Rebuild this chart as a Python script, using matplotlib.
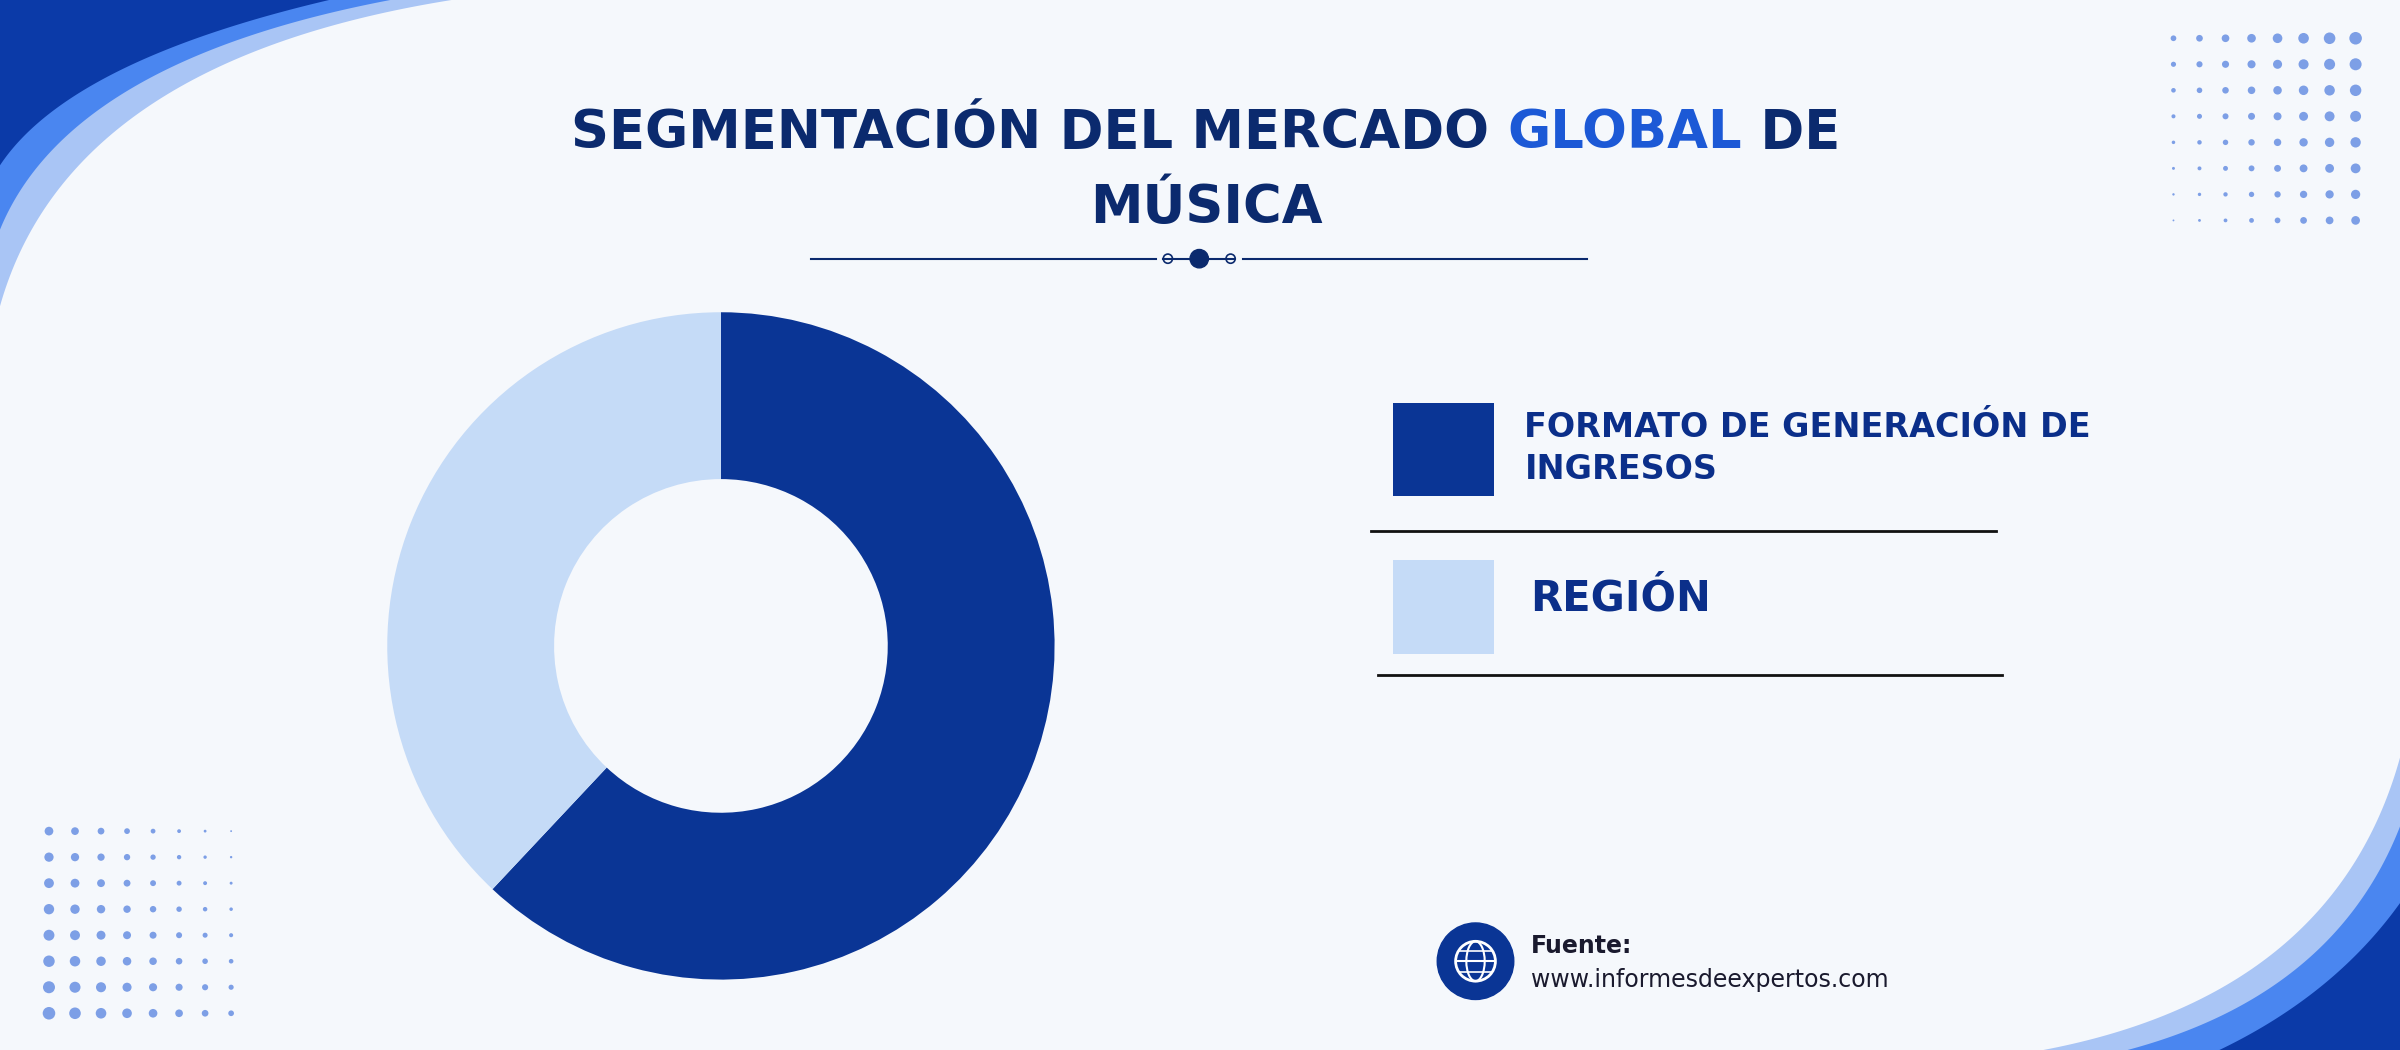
import numpy as np
import matplotlib
matplotlib.use("Agg")
import matplotlib.pyplot as plt
from matplotlib.patches import Polygon, Circle, Rectangle, Ellipse

# datos
segments = ["FORMATO DE GENERACIÓN DE\nINGRESOS", "REGIÓN"]
shares = [62, 38]
colors = ["#0a3595", "#c5dbf7"]
title_parts = [("SEGMENTACIÓN DEL MERCADO ", "#0b2a6e"), ("GLOBAL", "#1c59d6"), (" DE", "#0b2a6e")]
title_line2 = "MÚSICA"
source_label = "Fuente:"
source_url = "www.informesdeexpertos.com"

W, H = 1568, 686
BG = "#f5f8fc"
fig = plt.figure(figsize=(24, 10.5), dpi=100, facecolor=BG)
bg = fig.add_axes([0, 0, 1, 1])
bg.set_xlim(0, W)
bg.set_ylim(H, 0)
bg.axis("off")
bg.set_facecolor(BG)

def bez(p0, c, p1, n=80):
    t = np.linspace(0, 1, n)[:, None]
    return (1 - t) ** 2 * np.array(p0) + 2 * (1 - t) * t * np.array(c) + t ** 2 * np.array(p1)

# esquinas decorativas
for y0, x1, col in [(200, 295, "#a9c5f5"), (150, 255, "#4a86f0"), (108, 215, "#0b3aa8")]:
    pts = bez((0, y0), (45, 40), (x1, 0))
    bg.add_patch(Polygon(np.vstack([[[0, 0]], pts]), closed=True, color=col, lw=0))
for y0, x0, col in [(495, 1335, "#a9c5f5"), (540, 1390, "#4a86f0"), (590, 1450, "#0b3aa8")]:
    pts = bez((W, y0), (1525, 650), (x0, H))
    bg.add_patch(Polygon(np.vstack([[[W, H]], pts]), closed=True, color=col, lw=0))

# puntos
for i in range(8):
    for j in range(8):
        s = 0.6 + 0.32 * i + 0.18 * (7 - j)
        bg.add_patch(Circle((1420 + i * 17, 25 + j * 17), s, color="#7d9fe6", lw=0))
        s2 = 0.6 + 0.32 * (7 - i) + 0.18 * j
        bg.add_patch(Circle((32 + i * 17, 543 + j * 17), s2, color="#7d9fe6", lw=0))

# título
fig.canvas.draw()
r = fig.canvas.get_renderer()
sc = W / 2400
texts = []
for s, c in title_parts:
    texts.append(bg.text(0, 87, s, color=c, fontsize=38, fontweight="heavy", va="center", ha="left"))
widths = [t.get_window_extent(r).width * sc for t in texts]
x = 788 - sum(widths) / 2
for t, w in zip(texts, widths):
    t.set_x(x)
    x += w
bg.text(788, 136, title_line2, color="#0b2a6e", fontsize=38, fontweight="heavy", va="center", ha="center")
bg.plot([530, 755], [169, 169], color="#0b2a6e", lw=1.5)
bg.plot([812, 1037], [169, 169], color="#0b2a6e", lw=1.5)
bg.plot([760, 807], [169, 169], color="#0b2a6e", lw=1.5)
bg.add_patch(Circle((783.5, 169), 6, color="#0b2a6e"))
bg.add_patch(Circle((763, 169), 3, fill=False, ec="#0b2a6e", lw=1.2))
bg.add_patch(Circle((804, 169), 3, fill=False, ec="#0b2a6e", lw=1.2))

# donut
ax = fig.add_axes([(471 - 218) / W, 1 - (422 + 218) / H, 436 / W, 436 / H])
ax.pie(shares, startangle=90, counterclock=False, colors=colors,
       wedgeprops=dict(width=0.5, linewidth=0))
ax.set_xlim(-1, 1)
ax.set_ylim(-1, 1)
ax.set_aspect("equal")

# leyenda
sq = [(910, 263), (910, 366)]
for (sx, sy), c in zip(sq, colors):
    bg.add_patch(Rectangle((sx, sy), 66, 61, color=c, lw=0))
bg.text(996, 293, segments[0], color="#0b2f8a", fontsize=24, fontweight="bold",
        va="center", ha="left", linespacing=1.35)
bg.text(1000, 391, segments[1], color="#0b2f8a", fontsize=30, fontweight="bold",
        va="center", ha="left")
bg.plot([896, 1304], [347, 347], color="#111111", lw=2)
bg.plot([900, 1308], [441, 441], color="#111111", lw=2)

# fuente
bg.add_patch(Circle((964, 628), 25, color="#0a3595"))
bg.add_patch(Circle((964, 628), 13, fill=False, ec="white", lw=2))
bg.add_patch(Ellipse((964, 628), 12, 26, fill=False, ec="white", lw=1.5))
bg.plot([951, 977], [628, 628], color="white", lw=1.5)
bg.plot([953, 975], [621, 621], color="white", lw=1.2)
bg.plot([953, 975], [635, 635], color="white", lw=1.2)
bg.text(1000, 618, source_label, color="#1a1a2e", fontsize=17, fontweight="bold", va="center", ha="left")
bg.text(1000, 640, source_url, color="#1a1a2e", fontsize=17, va="center", ha="left")

fig.savefig("out.png", dpi=100, facecolor=BG)
